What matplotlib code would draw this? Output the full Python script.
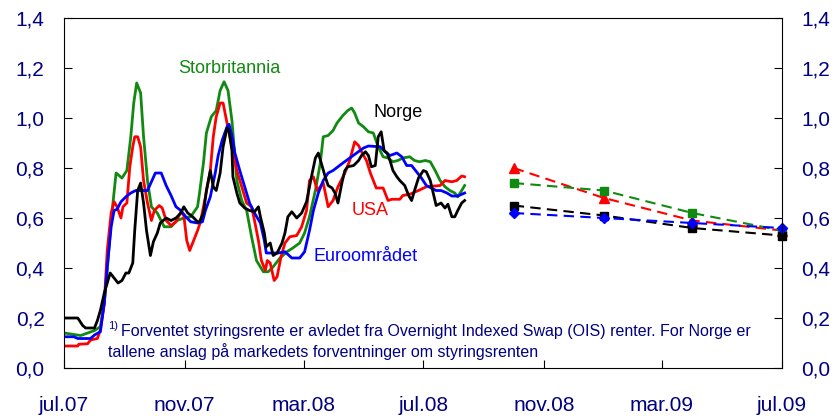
import numpy as np
import matplotlib
matplotlib.use('Agg')
import matplotlib.pyplot as plt

plt.rcParams['font.family'] = ['Liberation Sans', 'DejaVu Sans']

# dager etter 1. juli 2007 / verdier (prosentpoeng)
uk_day = [0, 17, 31, 37, 41, 44, 48, 53, 56, 59, 64, 68, 71, 74, 78, 81, 85, 89, 95, 102,
          109, 115, 122, 129, 136, 138, 142, 145, 150, 155, 159, 163, 167, 171, 176, 181, 186,
          191, 196, 203, 208, 213, 220, 227, 233, 240, 245, 250, 256, 261, 264, 269, 274, 278,
          284, 289, 293, 296, 300, 305, 310, 315, 320, 325, 330, 335, 340, 345, 352, 357, 362,
          368, 373, 378, 383, 388, 393, 398, 401, 405, 408]
uk_val = [0.14, 0.13, 0.15, 0.165, 0.26, 0.39, 0.59, 0.78, 0.77, 0.76, 0.79, 0.925, 1.06, 1.14,
          1.10, 0.925, 0.75, 0.645, 0.62, 0.565, 0.565, 0.59, 0.60, 0.605, 0.645, 0.70, 0.82,
          0.94, 1.005, 1.03, 1.11, 1.145, 1.11, 0.99, 0.75, 0.67, 0.63, 0.525, 0.43, 0.385,
          0.385, 0.405, 0.44, 0.465, 0.48, 0.50, 0.54, 0.605, 0.71, 0.82, 0.925, 0.93, 0.95,
          0.98, 1.01, 1.03, 1.04, 1.02, 0.98, 0.965, 0.945, 0.94, 0.885, 0.845, 0.84, 0.825,
          0.83, 0.84, 0.845, 0.83, 0.825, 0.83, 0.825, 0.79, 0.75, 0.725, 0.71, 0.70, 0.685,
          0.71, 0.73]

us_day = [0, 14, 15, 24, 27, 34, 37, 41, 44, 48, 51, 54, 58, 60, 64, 67, 70, 72, 75, 78, 81,
          85, 89, 92, 97, 100, 104, 109, 114, 119, 122, 125, 128, 132, 136, 139, 144, 149, 152,
          155, 159, 162, 166, 171, 176, 181, 186, 191, 194, 198, 201, 205, 207, 210, 214, 217,
          221, 225, 230, 237, 242, 247, 250, 254, 258, 264, 269, 274, 279, 286, 291, 296, 300,
          303, 308, 312, 315, 318, 325, 330, 334, 342, 345, 352, 361, 369, 383, 388, 395, 400,
          405, 408]
us_val = [0.088, 0.088, 0.095, 0.097, 0.112, 0.118, 0.152, 0.26, 0.47, 0.62, 0.665, 0.645,
          0.60, 0.645, 0.66, 0.805, 0.885, 0.925, 0.925, 0.885, 0.75, 0.66, 0.59, 0.63, 0.65,
          0.64, 0.59, 0.57, 0.585, 0.625, 0.61, 0.51, 0.47, 0.51, 0.55, 0.585, 0.685, 0.79,
          0.925, 1.005, 1.06, 1.06, 0.98, 0.885, 0.79, 0.725, 0.66, 0.645, 0.59, 0.51, 0.43,
          0.39, 0.43, 0.42, 0.35, 0.365, 0.445, 0.50, 0.525, 0.53, 0.565, 0.63, 0.75, 0.765,
          0.71, 0.74, 0.645, 0.67, 0.725, 0.78, 0.83, 0.905, 0.89, 0.865, 0.83, 0.78, 0.75,
          0.72, 0.72, 0.67, 0.675, 0.675, 0.69, 0.695, 0.71, 0.725, 0.73, 0.75, 0.745, 0.75,
          0.768, 0.765]

eu_day = [0, 10, 14, 27, 31, 37, 41, 44, 48, 51, 54, 58, 63, 68, 73, 85, 89, 93, 99, 104,
          109, 114, 119, 124, 129, 136, 141, 144, 149, 154, 157, 161, 166, 168, 171, 174, 179,
          184, 189, 194, 200, 204, 206, 218, 225, 232, 240, 245, 250, 254, 259, 264, 269, 274,
          279, 284, 291, 298, 305, 310, 322, 327, 332, 339, 344, 349, 354, 359, 364, 369, 374,
          379, 384, 390, 395, 401, 408]
eu_val = [0.125, 0.125, 0.118, 0.118, 0.132, 0.145, 0.26, 0.405, 0.565, 0.63, 0.635, 0.665,
          0.685, 0.70, 0.71, 0.71, 0.745, 0.78, 0.78, 0.73, 0.69, 0.645, 0.63, 0.605, 0.585,
          0.58, 0.585, 0.63, 0.685, 0.78, 0.85, 0.91, 0.965, 0.975, 0.93, 0.86, 0.79, 0.725,
          0.66, 0.62, 0.58, 0.51, 0.46, 0.46, 0.465, 0.44, 0.44, 0.465, 0.55, 0.63, 0.70, 0.75,
          0.78, 0.79, 0.805, 0.82, 0.84, 0.86, 0.88, 0.888, 0.885, 0.865, 0.85, 0.86, 0.845,
          0.81, 0.81, 0.785, 0.76, 0.73, 0.72, 0.71, 0.71, 0.70, 0.688, 0.688, 0.70]

no_day = [0, 14, 19, 22, 31, 34, 37, 41, 44, 47, 51, 55, 59, 63, 66, 70, 72, 75, 78, 81, 84,
          88, 91, 95, 98, 104, 109, 114, 119, 122, 126, 131, 136, 138, 142, 145, 149, 152, 155,
          159, 162, 166, 168, 171, 172, 176, 179, 184, 189, 194, 198, 200, 204, 206, 210, 213,
          217, 222, 225, 228, 232, 237, 242, 247, 252, 256, 259, 262, 266, 269, 273, 276, 279,
          283, 286, 289, 295, 300, 303, 307, 310, 313, 317, 320, 323, 326, 329, 332, 335, 339,
          342, 347, 351, 354, 357, 361, 366, 369, 373, 376, 379, 384, 388, 391, 395, 398, 401,
          405, 408]
no_val = [0.20, 0.20, 0.17, 0.16, 0.16, 0.19, 0.23, 0.30, 0.34, 0.38, 0.36, 0.34, 0.35, 0.38,
          0.38, 0.42, 0.55, 0.71, 0.74, 0.66, 0.55, 0.45, 0.505, 0.54, 0.58, 0.60, 0.59, 0.60,
          0.62, 0.645, 0.62, 0.605, 0.585, 0.585, 0.62, 0.71, 0.79, 0.725, 0.71, 0.78, 0.885,
          0.96, 0.95, 0.87, 0.765, 0.70, 0.66, 0.64, 0.63, 0.625, 0.645, 0.605, 0.54, 0.485,
          0.50, 0.45, 0.46, 0.50, 0.54, 0.605, 0.625, 0.60, 0.62, 0.665, 0.765, 0.84, 0.86,
          0.82, 0.765, 0.73, 0.72, 0.70, 0.66, 0.74, 0.79, 0.805, 0.81, 0.83, 0.85, 0.865, 0.85,
          0.805, 0.81, 0.925, 0.945, 0.87, 0.86, 0.83, 0.79, 0.765, 0.75, 0.73, 0.69, 0.67,
          0.71, 0.76, 0.79, 0.785, 0.75, 0.70, 0.65, 0.66, 0.64, 0.655, 0.605, 0.605, 0.63,
          0.66, 0.67]

# anslag (kvartalsvis)
fc_dates = ['2008-10-01', '2009-01-01', '2009-04-01', '2009-07-01']
fc_us = [0.80, 0.68, 0.59, 0.55]
fc_uk = [0.74, 0.71, 0.62, 0.55]
fc_no = [0.65, 0.61, 0.56, 0.53]
fc_eu = [0.62, 0.60, 0.58, 0.56]

tick_dates = ['2007-07-01', '2007-11-01', '2008-03-01', '2008-07-01',
              '2008-11-01', '2009-03-01', '2009-07-01']
tick_labels = ['jul.07', 'nov.07', 'mar.08', 'jul.08', 'nov.08', 'mar.09', 'jul.09']
y_ticks = [0.0, 0.2, 0.4, 0.6, 0.8, 1.0, 1.2, 1.4]

start = np.datetime64('2007-07-01')
navy = '#000080'
green = '#118a11'

fig = plt.figure(figsize=(8.37, 4.19), dpi=100)
ax = fig.add_axes([0.0765, 0.1217, 0.8575, 0.8353])

def d(days):
    return start + np.array(days).astype('timedelta64[D]')

ax.plot(d(uk_day), uk_val, color=green, lw=2)
ax.plot(d(us_day), us_val, color='red', lw=2)
ax.plot(d(eu_day), eu_val, color='blue', lw=2)
ax.plot(d(no_day), no_val, color='black', lw=2)

fx = np.array(fc_dates, dtype='datetime64[D]')
ax.plot(fx, fc_us, '--', color='red', marker='^', ms=6.5, lw=1.5, dashes=(5, 3), clip_on=False)
ax.plot(fx, fc_uk, '--', color=green, marker='s', ms=6, lw=1.5, dashes=(5, 3), clip_on=False)
ax.plot(fx, fc_no, '--', color='black', marker='s', ms=6, lw=1.5, dashes=(5, 3), clip_on=False)
ax.plot(fx, fc_eu, '--', color='blue', marker='D', ms=5, lw=1.5, dashes=(5, 3), clip_on=False)

ax.set_xlim(np.datetime64('2007-07-01'), np.datetime64('2009-07-01'))
ax.set_ylim(0, 1.4)
ax.set_xticks(np.array(tick_dates, dtype='datetime64[D]'))
ax.set_xticklabels(tick_labels)
ax.set_yticks(y_ticks)
ax.set_yticklabels([('%.1f' % v).replace('.', ',') for v in y_ticks])
ax.tick_params(axis='y', direction='in', left=True, right=True, labelleft=True,
               labelright=True, length=6, pad=14, labelsize=15, labelcolor=navy)
ax.tick_params(axis='x', direction='in', length=6, pad=20, labelsize=15, labelcolor=navy)

# serienavn
ax.text(start + np.timedelta64(168, 'D'), 1.20, 'Storbritannia', color=green, fontsize=13,
        ha='center', va='center')
ax.text(start + np.timedelta64(340, 'D'), 1.024, 'Norge', color='black', fontsize=13,
        ha='center', va='center')
ax.text(start + np.timedelta64(312, 'D'), 0.632, 'USA', color='red', fontsize=13,
        ha='center', va='center')
ax.text(start + np.timedelta64(307, 'D'), 0.448, 'Euroområdet', color='blue', fontsize=13,
        ha='center', va='center')

# fotnote
ax.text(0.061, 0.12, '1)', transform=ax.transAxes, fontsize=8, color=navy, va='center')
ax.text(0.080, 0.103, 'Forventet styringsrente er avledet fra Overnight Indexed Swap (OIS) '
        'renter. For Norge er', transform=ax.transAxes, fontsize=11.5, color=navy, va='center')
ax.text(0.061, 0.046, 'tallene anslag på markedets forventninger om styringsrenten',
        transform=ax.transAxes, fontsize=11.5, color=navy, va='center')

fig.savefig('out.png', dpi=100)
